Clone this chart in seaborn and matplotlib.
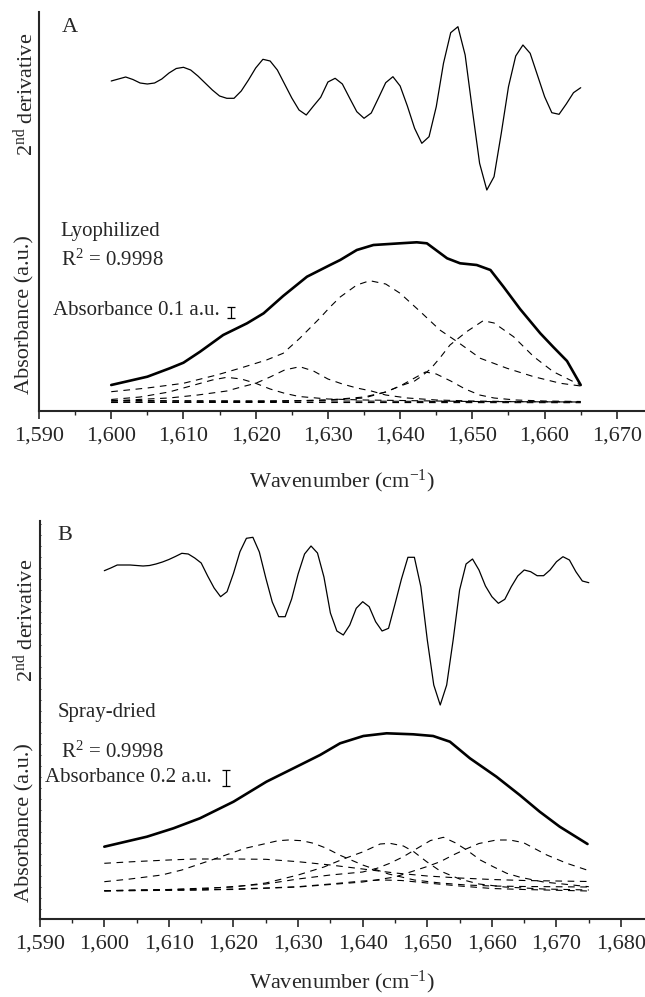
import numpy as np
import pandas as pd
import seaborn as sns
import matplotlib.pyplot as plt
from matplotlib.ticker import MultipleLocator, FuncFormatter

# ---------------- data (arbitrary height units) ----------------
# Panel A - lyophilized
wn_deriv_a = list(range(1600, 1666))
deriv_a = [330, 332, 334, 331.5, 328, 327, 328, 332, 338, 342.5, 343.7, 341, 335, 328, 321,
           315, 312.7, 312.7, 320, 331, 343, 351.7, 350, 341, 327, 313, 301, 296, 305, 313.7,
           329, 332.7, 327, 313, 299.3, 292.7, 298, 313, 328.3, 334.3, 325, 305, 282.7, 267.7,
           274.3, 304.3, 347.7, 378.3, 384.3, 356, 301, 247.7, 221, 234.3, 277.7, 324.3, 355,
           366, 357.7, 336, 314.3, 298.3, 296.7, 307, 318.3, 323.3]

wn_abs_a = [1600, 1605, 1608.1, 1610, 1612.3, 1615.5, 1618.8, 1621.1, 1623.8, 1627.1, 1630.3,
            1631.7, 1634, 1636.3, 1640, 1642.3, 1643.7, 1646.5, 1648.3, 1650.6, 1652.5, 1654.3,
            1656.6, 1659.4, 1661.2, 1663.1, 1665]
abs_a = [26, 34.3, 42.7, 48.3, 59.3, 76, 87.7, 97.7, 115, 134.3, 146, 151, 161, 166, 167.7,
         168.7, 167.7, 152.7, 147.7, 146, 141, 124.3, 102, 77.7, 64, 50, 26]

bands_a = {
    "1636": ([1600, 1605, 1610, 1614.6, 1617.8, 1621.5, 1623.8, 1626.1, 1628.9, 1630.3, 1631.7,
              1634, 1635.8, 1638, 1640, 1642.8, 1645.5, 1647.9, 1651.1, 1654.8, 1658.5, 1662.2, 1665],
             [19.3, 23, 27.7, 36, 42.7, 51, 57.7, 72.7, 93, 104, 114, 126, 130.3, 127, 117.7,
              99.3, 81, 69.3, 52.7, 42.7, 34.3, 27.7, 25]),
    "1616": ([1600, 1604, 1608, 1612, 1614, 1616, 1618, 1620, 1622, 1624, 1626, 1630, 1635, 1640, 1650, 1665],
             [11.5, 14, 19, 27, 31, 33.7, 32, 27.7, 22, 17.7, 14.5, 12, 11, 10.5, 9.5, 9]),
    "1626": ([1600, 1605, 1608, 1612, 1616, 1618, 1620, 1622, 1624, 1626.1, 1628, 1630, 1632, 1634,
              1636, 1638, 1641, 1645, 1650, 1655, 1665],
             [10, 12, 13, 16, 20, 24, 27.7, 34, 41, 44.3, 40, 32, 27, 23, 20, 16, 13, 11, 10, 9.5, 9]),
    "1643": ([1600, 1620, 1630, 1635, 1638, 1640, 1642, 1643.5, 1645, 1647, 1649, 1651, 1653, 1656, 1660, 1665],
             [9, 9.5, 11, 13, 19, 25, 33, 39, 37, 30, 22, 16, 13, 11, 10, 9.5]),
    "1652": ([1600, 1620, 1630, 1635, 1638, 1640, 1642, 1643, 1644.2, 1645.5, 1646.9, 1649.2, 1651.5,
              1653, 1655.7, 1658.5, 1661.2, 1664, 1665],
             [8.5, 9, 11, 14, 19, 25, 30, 35, 42, 53, 66, 79.3, 90.3, 88, 74.3, 54.3, 39.3, 29.3, 26]),
    "base1": ([1600, 1630, 1665], [10.5, 10, 9]),
    "base2": ([1600, 1630, 1665], [8.7, 8.5, 8.3]),
}

# Panel B - spray-dried
wn_deriv_b = list(range(1600, 1676))
deriv_b = [348.3, 351, 354, 354, 354, 353.5, 353, 353.5, 355, 357, 359.5, 362.5, 365.7, 365, 361,
           356, 343, 331, 322.3, 327.3, 345.7, 367.3, 380.7, 381.7, 367, 341, 317, 302.3, 302.3,
           320, 345, 365, 373, 366, 342, 306, 288, 284, 294, 310.7, 317.3, 312.3, 297.3, 288,
           290.7, 315, 340, 361.7, 361.7, 332.3, 279, 234, 214, 234, 279, 329, 355, 360, 349,
           333, 322.3, 315.7, 319.7, 332.3, 343, 349, 347.3, 343.3, 343.3, 349, 357.3, 362.3,
           359, 347.3, 338, 336.3]

wn_abs_b = [1600, 1606.6, 1610.7, 1614.8, 1620, 1625.1, 1630.3, 1633.4, 1636.5, 1640.1, 1643.7,
            1647.8, 1650.9, 1653.5, 1656.6, 1660.7, 1664.3, 1667.4, 1670.5, 1674.8]
abs_b = [72.3, 82.3, 90.7, 100.7, 117.3, 137.3, 154, 164, 175.7, 183, 185.7, 184.7, 183, 177.3,
         160.7, 142.3, 124, 107.3, 92.3, 75]

bands_b = {
    "1618": ([1600, 1605, 1610, 1614, 1620, 1625, 1630, 1635, 1640, 1645, 1650, 1655, 1660, 1665, 1675],
             [55.7, 57.5, 59, 60, 60, 59.7, 57.3, 54, 50, 46, 43, 41, 39.5, 38.5, 37.5]),
    "1629": ([1600, 1604, 1608.9, 1612, 1616.6, 1621.8, 1626.9, 1628.5, 1630.6, 1632.4, 1634.4, 1636.4,
              1640, 1644, 1648, 1652, 1656, 1660, 1665, 1675],
             [37.3, 40, 44, 49, 59, 70.7, 78.3, 79, 78.3, 75.7, 70.7, 64, 54, 45, 39, 36, 34, 33, 32.5, 32]),
    "1644": ([1600, 1610, 1620, 1625, 1630, 1634, 1637, 1640.1, 1642.7, 1644.2, 1646.3, 1647.9, 1649.9,
              1652, 1655, 1658, 1662, 1668, 1675],
             [28.3, 29.5, 32, 36, 44, 52, 60, 67.3, 75, 75.7, 73, 67.3, 57.3, 48, 40, 35, 32, 30, 29]),
    "1652": ([1600, 1615, 1625, 1630, 1635, 1640, 1642.2, 1644.2, 1646.3, 1648.4, 1650.5, 1652.5, 1654.3,
              1656.1, 1658.2, 1660.2, 1662.3, 1664.4, 1668, 1675],
             [28.3, 30, 35, 40, 44, 47, 50.7, 55.7, 62.3, 70.5, 78.5, 81.7, 76.3, 69, 59, 52.3, 45.7,
              41.7, 37, 32.3]),
    "1661": ([1600, 1620, 1630, 1640, 1645, 1649.9, 1652, 1654, 1656, 1658, 1660.7, 1662.8, 1664.9,
              1668.5, 1671.6, 1674.7],
             [28.3, 29.5, 32, 37, 42, 52.3, 57.3, 64, 70, 75.5, 79, 79, 76.3, 64, 55.7, 49]),
    "1645": ([1600, 1615, 1625, 1630, 1635, 1640, 1643, 1646, 1650, 1655, 1660, 1665, 1675],
             [28, 29, 31, 32.3, 35, 38, 39, 38.5, 36, 33, 30.5, 29.5, 28]),
}

# ---------------- style ----------------
sns.set_style("ticks")
plt.rcParams['font.family'] = ['Liberation Serif', 'DejaVu Serif']
plt.rcParams['mathtext.fontset'] = 'custom'
plt.rcParams['mathtext.rm'] = 'Liberation Serif'
plt.rcParams['mathtext.it'] = 'Liberation Serif'
plt.rcParams['mathtext.default'] = 'regular'

W, H = 645, 997
fig = plt.figure(figsize=(W / 100, H / 100), dpi=100)

FS = 16
dash = (0, (6, 5))


def panel(ax, wn_d, deriv, wn_a, absorb, bands, xmax, ymax, xticks_max, lpad):
    sns.lineplot(x=wn_d, y=deriv, ax=ax, color='black', lw=0.9, estimator=None)
    for name, (bx, by) in bands.items():
        sns.lineplot(x=bx, y=by, ax=ax, color='black', lw=0.8, estimator=None, linestyle=dash)
    sns.lineplot(x=wn_a, y=absorb, ax=ax, color='black', lw=1.9, estimator=None)
    ax.set_xlim(1590, xmax)
    ax.set_ylim(0, ymax)
    ax.set_xticks(np.arange(1590, xticks_max + 1, 10))
    ax.xaxis.set_minor_locator(MultipleLocator(5))
    ax.xaxis.set_major_formatter(FuncFormatter(lambda v, p: f"{v:,.0f}"))
    ax.tick_params(axis='x', which='major', direction='out', length=6, width=1.2,
                   labelsize=FS, pad=5)
    ax.tick_params(axis='x', which='minor', direction='out', length=3, width=1.0)
    sns.despine(ax=ax)
    for s in ['left', 'bottom']:
        ax.spines[s].set_linewidth(1.5)
    ax.set_xlabel("Wavenumber (cm$^{-1}$)", fontsize=FS, labelpad=lpad)
    ax.set_ylabel("")


# panel A
axA = fig.add_axes([39 / W, (H - 411) / H, 606 / W, 399 / H])
panel(axA, wn_deriv_a, deriv_a, wn_abs_a, abs_a, bands_a, 1673.9, 399, 1670, 16)
axA.set_yticks([])
axA.text(1594.3, 384, "A", fontsize=FS, ha='center', va='center')
axA.text(1592.9, 180, "Lyophilized", fontsize=FS - 1, ha='left', va='center')
axA.text(1593.0, 151, "R$^2$ = 0.9998", fontsize=FS - 1, ha='left', va='center')
axA.text(1591.9, 101, "Absorbance 0.1 a.u.", fontsize=FS - 1, ha='left', va='center')
axA.errorbar([1616.6], [99], yerr=[5.5], fmt='none', ecolor='black', elinewidth=0.9,
             capsize=3, capthick=0.9)

# panel B
axB = fig.add_axes([39.7 / W, 78 / H, 605.3 / W, 398 / H])
panel(axB, wn_deriv_b, deriv_b, wn_abs_b, abs_b, bands_b, 1683.7, 398, 1680, 11)
axB.set_yticks(np.arange(10, 398, 11))
axB.set_yticklabels([])
axB.tick_params(axis='y', direction='inout', length=1.6, width=0.7)
axB.text(1593.9, 384, "B", fontsize=FS, ha='center', va='center')
axB.text(1592.8, 207, "Spray-dried", fontsize=FS - 1, ha='left', va='center')
axB.text(1593.3, 167, "R$^2$ = 0.9998", fontsize=FS - 1, ha='left', va='center')
axB.text(1590.8, 141, "Absorbance 0.2 a.u.", fontsize=FS - 1, ha='left', va='center')
axB.errorbar([1618.9], [141], yerr=[8], fmt='none', ecolor='black', elinewidth=0.9,
             capsize=3, capthick=0.9)

# split y labels
for ycen, txt in [(94, "$2^{nd}$ derivative"), (315, "Absorbance (a.u.)"),
                  (620, "$2^{nd}$ derivative"), (823, "Absorbance (a.u.)")]:
    fig.text(25 / W, 1 - ycen / H, txt, rotation=90, fontsize=FS, ha='center', va='center')

fig.savefig("out.png", dpi=100)
